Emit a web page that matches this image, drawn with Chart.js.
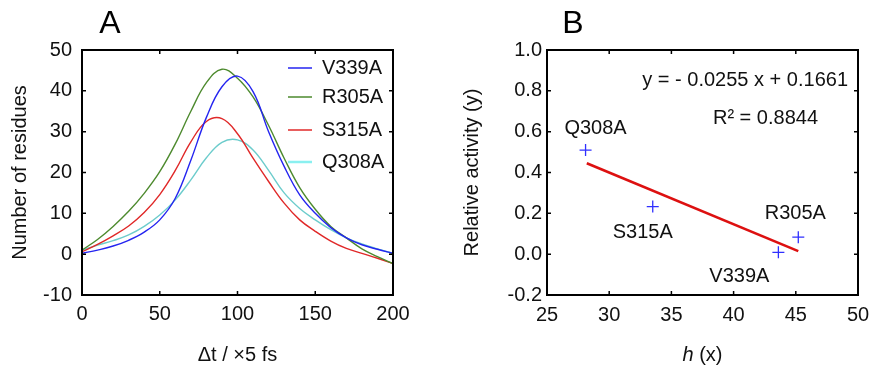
<!DOCTYPE html>
<html>
<head>
<meta charset="utf-8">
<script src="https://cdn.jsdelivr.net/npm/chart.js@4.4.1/dist/chart.umd.min.js"></script>
<style>
  html, body { margin: 0; padding: 0; background: #fff; }
  #wrap { position: relative; width: 869px; height: 371px; }
  .panel { position: absolute; top: 0; height: 371px; }
  #panelA { left: 0; width: 430px; }
  #panelB { left: 430px; width: 439px; }
</style>
</head>
<body>
<div id="wrap">
  <div class="panel" id="panelA"><canvas id="chartA"></canvas></div>
  <div class="panel" id="panelB"><canvas id="chartB"></canvas></div>
</div>
<script>
// ---- panel A: residues vs time lag ----
const timeSteps = [0, 10, 20, 30, 40, 50, 60, 70, 80, 90, 100, 110, 120, 130, 140, 150, 160, 170, 180, 190, 200];
const v339a = [0.2, 1.0, 2.0, 3.4, 5.4, 8.4, 13.7, 23, 33.5, 41, 43.6, 39.8, 30, 21.5, 14.5, 10, 6.5, 4, 2.3, 1.2, 0.2];
const r305a = [1.0, 3.6, 6.8, 10.5, 14.9, 20.2, 27, 35, 42, 45.3, 43.1, 38.5, 31.5, 23.5, 16.3, 11, 6.8, 4, 1.3, -0.6, -2.3];
const s315a = [0.6, 2.4, 4.5, 6.9, 10.2, 14.6, 20.5, 27.5, 32.5, 33.2, 29.5, 23.5, 17.8, 12.5, 8.4, 5.6, 3.2, 1.4, 0.2, -1, -2.3];
const q308a = [1.0, 2.2, 3.3, 4.7, 6.8, 9.6, 13.3, 18.2, 23.6, 27.4, 28, 25.5, 20.5, 15, 11.2, 8.4, 6, 4, 2.5, 1.3, 0.2];
const xTicksA = [0, 50, 100, 150, 200];
const yTicksA = [-10, 0, 10, 20, 30, 40, 50];

// ---- panel B: relative activity vs h ----
const mutants = ['Q308A', 'S315A', 'V339A', 'R305A'];
const hValues = [28.1, 33.5, 43.6, 45.2];
const activity = [0.51, 0.233, 0.009, 0.083];
const fitH = [28.2, 45.2];
const fitY = [0.445, 0.015];
const xTicksB = [25, 30, 35, 40, 45, 50];
const yTicksB = [-0.2, 0, 0.2, 0.4, 0.6, 0.8, 1.0];

const FONT = 'Liberation Sans, Arial, sans-serif';
const font20 = { family: FONT, size: 20 };

// pixel offsets of the mutant labels from their points
const labelOffsets = { Q308A: [10, -22], S315A: [-10, 26], V339A: [-39, 24], R305A: [-3, -24] };

const toXY = (xs, ys) => xs.map((x, i) => ({ x, y: ys[i] }));

// box frame with inward ticks on all four sides
const framePlugin = {
  id: 'frame',
  afterDatasetsDraw(chart) {
    const { ctx, chartArea: a, scales: { x, y } } = chart;
    ctx.save();
    ctx.strokeStyle = '#000';
    ctx.lineWidth = 2;
    ctx.strokeRect(a.left, a.top, a.right - a.left, a.bottom - a.top);
    ctx.lineWidth = 1.5;
    ctx.beginPath();
    x.ticks.forEach(t => {
      const px = x.getPixelForValue(t.value);
      ctx.moveTo(px, a.bottom); ctx.lineTo(px, a.bottom - 4);
      ctx.moveTo(px, a.top); ctx.lineTo(px, a.top + 4);
    });
    y.ticks.forEach(t => {
      const py = y.getPixelForValue(t.value);
      ctx.moveTo(a.left, py); ctx.lineTo(a.left + 4, py);
      ctx.moveTo(a.right, py); ctx.lineTo(a.right - 4, py);
    });
    ctx.stroke();
    ctx.restore();
  }
};

function panelLetter(letter, cx) {
  return {
    id: 'letter' + letter,
    afterDraw(chart) {
      const ctx = chart.ctx;
      ctx.save();
      ctx.fillStyle = '#000';
      ctx.font = '32px ' + FONT;
      ctx.textAlign = 'center';
      ctx.textBaseline = 'middle';
      ctx.fillText(letter, cx, 24);
      ctx.restore();
    }
  };
}

// legend drawn inside the plot, top right
const legendA = {
  id: 'legendA',
  afterDraw(chart) {
    const { ctx, chartArea: a } = chart;
    const rows = [18, 47, 80, 112];
    ctx.save();
    ctx.font = '20px ' + FONT;
    ctx.textBaseline = 'middle';
    ctx.textAlign = 'left';
    chart.data.datasets.forEach((ds, i) => {
      const y = a.top + rows[i];
      ctx.strokeStyle = ds.legendColor || ds.borderColor;
      ctx.lineWidth = ds.legendColor ? 2.5 : 1.5;
      ctx.beginPath();
      ctx.moveTo(a.right - 105, y);
      ctx.lineTo(a.right - 81, y);
      ctx.stroke();
      ctx.fillStyle = '#111';
      ctx.fillText(ds.label, a.right - 71, y);
    });
    ctx.restore();
  }
};

const labelsB = {
  id: 'labelsB',
  afterDraw(chart) {
    const { ctx, chartArea: a, scales: { x, y } } = chart;
    ctx.save();
    ctx.font = '20px ' + FONT;
    ctx.fillStyle = '#111';
    ctx.textBaseline = 'middle';
    ctx.textAlign = 'center';
    mutants.forEach((m, i) => {
      const [dx, dy] = labelOffsets[m];
      ctx.fillText(m, x.getPixelForValue(hValues[i]) + dx, y.getPixelForValue(activity[i]) + dy);
    });
    ctx.textAlign = 'right';
    ctx.fillText('y = - 0.0255 x + 0.1661', a.right - 10, a.top + 30);
    ctx.fillText('R\u00B2 = 0.8844', a.right - 40, a.top + 68);

    // x title with italic h
    const cx = (a.left + a.right) / 2;
    const ty = 355;
    ctx.textAlign = 'left';
    ctx.font = 'italic 20px ' + FONT;
    const w1 = ctx.measureText('h').width;
    ctx.font = '20px ' + FONT;
    const w2 = ctx.measureText(' (x)').width;
    const x0 = cx - (w1 + w2) / 2;
    ctx.font = 'italic 20px ' + FONT;
    ctx.fillText('h', x0, ty);
    ctx.font = '20px ' + FONT;
    ctx.fillText(' (x)', x0 + w1, ty);
    ctx.restore();
  }
};

function fixedTicks(list) {
  return s => { s.ticks = list.map(v => ({ value: v })); };
}

const common = {
  responsive: true,
  maintainAspectRatio: false,
  animation: false,
  devicePixelRatio: 1,
  plugins: { legend: { display: false }, tooltip: { enabled: false } }
};

new Chart(document.getElementById('chartA'), {
  type: 'line',
  data: {
    datasets: [
      { label: 'V339A', data: toXY(timeSteps, v339a), borderColor: '#2424f0' },
      { label: 'R305A', data: toXY(timeSteps, r305a), borderColor: '#4d8a2e' },
      { label: 'S315A', data: toXY(timeSteps, s315a), borderColor: '#e02828' },
      { label: 'Q308A', data: toXY(timeSteps, q308a), borderColor: '#6ccccc', legendColor: '#8af0f0' }
    ].map(ds => Object.assign(ds, { borderWidth: 1.4, pointRadius: 0, tension: 0.4, fill: false }))
  },
  options: Object.assign({}, common, {
    layout: { padding: { left: 0, right: 37, top: 50, bottom: 0 } },
    scales: {
      x: {
        type: 'linear', min: 0, max: 200,
        afterBuildTicks: fixedTicks(xTicksA),
        afterFit: s => { s.height = 76; s.paddingLeft = 0; s.paddingRight = 0; },
        ticks: { font: font20, color: '#111', padding: 7, maxRotation: 0, autoSkip: false },
        grid: { display: false, drawTicks: false },
        border: { display: false },
        title: { display: true, text: '\u0394t / \u00D75 fs', font: font20, color: '#111', padding: { top: 0, bottom: 4 } }
      },
      y: {
        min: -10, max: 50,
        afterBuildTicks: fixedTicks(yTicksA),
        afterFit: s => { s.width = 82; },
        ticks: { font: font20, color: '#111', padding: 10 },
        grid: { display: false, drawTicks: false },
        border: { display: false },
        title: { display: true, text: 'Number of residues', font: font20, color: '#111', padding: { top: 8, bottom: 0 } }
      }
    }
  }),
  plugins: [framePlugin, legendA, panelLetter('A', 110)]
});

new Chart(document.getElementById('chartB'), {
  type: 'scatter',
  data: {
    datasets: [
      {
        data: toXY(hValues, activity),
        pointStyle: 'cross', pointRadius: 6, borderColor: '#3030ff', borderWidth: 1.3, showLine: false
      },
      {
        data: toXY(fitH, fitY),
        borderColor: '#dd1010', borderWidth: 2.6, pointRadius: 0, showLine: true
      }
    ]
  },
  options: Object.assign({}, common, {
    layout: { padding: { left: 0, right: 11, top: 50, bottom: 0 } },
    scales: {
      x: {
        type: 'linear', min: 25, max: 50,
        afterBuildTicks: fixedTicks(xTicksB),
        afterFit: s => { s.height = 76; s.paddingLeft = 0; s.paddingRight = 0; },
        ticks: { font: font20, color: '#111', padding: 8, maxRotation: 0, autoSkip: false },
        grid: { display: false, drawTicks: false },
        border: { display: false },
        title: { display: false }
      },
      y: {
        min: -0.2, max: 1.0,
        afterBuildTicks: fixedTicks(yTicksB),
        afterFit: s => { s.width = 117; },
        ticks: { font: font20, color: '#111', padding: 5, callback: v => v.toFixed(1) },
        grid: { display: false, drawTicks: false },
        border: { display: false },
        title: { display: true, text: 'Relative activity (y)', font: font20, color: '#111', padding: { top: 30, bottom: 0 } }
      }
    }
  }),
  plugins: [framePlugin, labelsB, panelLetter('B', 143)]
});
</script>
</body>
</html>
